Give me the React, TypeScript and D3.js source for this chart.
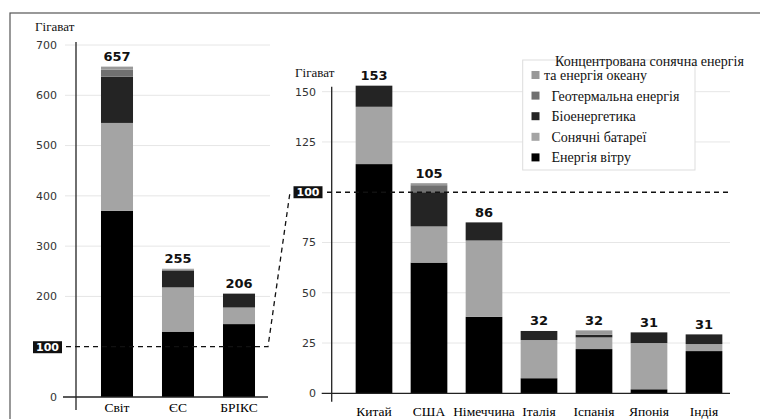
import React from "react";
import * as d3 from "d3";

const leftCategories = ["Світ", "ЄС", "БРІКС"];
const leftWind = [370, 130, 145];
const leftSolar = [175, 88, 33];
const leftBio = [92, 33, 27];
const leftGeo = [14, 2, 1];
const leftCsp = [6, 2, 0];
const leftTotals = [657, 255, 206];
const leftTicks = [0, 100, 200, 300, 400, 500, 600, 700];

const rightCategories = ["Китай", "США", "Німеччина", "Італія", "Іспанія", "Японія", "Індія"];
const rightWind = [114, 65, 38, 7.5, 22, 2, 21];
const rightSolar = [28.5, 18, 38, 19, 5.8, 23, 3.5];
const rightBio = [10.5, 17, 9, 4.5, 1.3, 5.3, 4.8];
const rightGeo = [0, 3.5, 0, 0, 0, 0, 0];
const rightCsp = [0, 1, 0, 0, 2.2, 0, 0];
const rightTotals = [153, 105, 86, 32, 32, 31, 31];
const rightTicks = [0, 25, 50, 75, 100, 125, 150];

const keys = ["wind", "solar", "bio", "geo", "csp"];
const colors: Record<string, string> = {
  wind: "#000000",
  solar: "#a4a4a4",
  bio: "#242424",
  geo: "#707070",
  csp: "#999999",
};
const legendItems = [
  { key: "csp", label: "та  енергія океану" },
  { key: "geo", label: "Геотермальна енергія" },
  { key: "bio", label: "Біоенергетика" },
  { key: "solar", label: "Сонячні батареї" },
  { key: "wind", label: "Енергія вітру" },
];

function buildRows(cats: string[], w: number[], s: number[], b: number[], g: number[], c: number[]) {
  return cats.map((cat, i) => ({ cat, wind: w[i], solar: s[i], bio: b[i], geo: g[i], csp: c[i] }));
}

const sans = { fontFamily: "DejaVu Sans, Verdana, sans-serif" };
const serif = { fontFamily: "Liberation Serif, Times New Roman, serif" };

export default function App() {
  const leftRows = buildRows(leftCategories, leftWind, leftSolar, leftBio, leftGeo, leftCsp);
  const rightRows = buildRows(rightCategories, rightWind, rightSolar, rightBio, rightGeo, rightCsp);
  const stack = d3.stack<any>().keys(keys);
  const leftSeries = stack(leftRows);
  const rightSeries = stack(rightRows);

  const yL = d3.scaleLinear().domain([0, 700]).range([397, 45]);
  const xL = d3.scaleBand().domain(leftCategories).range([86.5, 269.5]).paddingInner(0.475).paddingOuter(0.2375);
  const yR = d3.scaleLinear().domain([0, 150]).range([393.3, 91.7]);
  const xR = d3.scaleBand().domain(rightCategories).range([346.5, 731.5]).paddingInner(0.333).paddingOuter(0.1665);

  const y100L = yL(100);
  const y100R = yR(100);
  const rightSum = (i: number) => d3.sum([rightWind[i], rightSolar[i], rightBio[i], rightGeo[i], rightCsp[i]]);

  return (
    <svg width={760} height={419} style={{ position: "absolute", left: 0, top: 0, background: "#fff" }}>
      <rect x={0} y={0} width={760} height={419} fill="#fff" />
      <rect x={10} y={13} width={760} height={420} fill="none" stroke="#555" strokeWidth={1.2} />

      {/* LEFT CHART */}
      {leftTicks.filter((t) => t !== 0 && t !== 100).map((t) => (
        <line key={"gl" + t} x1={65} x2={270} y1={yL(t)} y2={yL(t)} stroke="#e6e6e6" strokeWidth={1} />
      ))}
      {leftSeries.map((ser) =>
        ser.map((d: any, i: number) => (
          <rect
            key={ser.key + i}
            x={xL(leftCategories[i])}
            width={xL.bandwidth()}
            y={yL(d[1])}
            height={Math.max(0, yL(d[0]) - yL(d[1]))}
            fill={colors[ser.key]}
          />
        ))
      )}
      {leftTicks.filter((t) => t !== 100).map((t) => (
        <text key={"tl" + t} x={57} y={yL(t)} dy="0.35em" textAnchor="end" style={sans} fontSize={11} fill="#333">
          {t}
        </text>
      ))}
      <line x1={76} x2={76} y1={42} y2={410} stroke="#222" strokeWidth={1.3} />
      <line x1={63} x2={268} y1={yL(0)} y2={yL(0)} stroke="#222" strokeWidth={1.3} />
      <text x={35} y={31} style={serif} fontSize={13} fill="#111">Гігават</text>
      {leftCategories.map((c, i) => (
        <g key={"lc" + c}>
          <text x={(xL(c) as number) + xL.bandwidth() / 2} y={yL(leftTotals[i]) - 5.5} textAnchor="middle" style={sans} fontWeight="bold" fontSize={13} fill="#111">
            {leftTotals[i]}
          </text>
          <text x={(xL(c) as number) + xL.bandwidth() / 2} y={412} textAnchor="middle" style={serif} fontSize={13.5} fill="#000">
            {c}
          </text>
        </g>
      ))}
      <rect x={33} y={y100L - 5.5} width={29} height={12} fill="#111" />
      <text x={47.5} y={y100L} dy="0.36em" textAnchor="middle" style={sans} fontSize={11} fontWeight="bold" fill="#fff">100</text>

      {/* connector */}
      <polyline
        points={`66,${y100L} 268,${y100L} 290,${y100R}`}
        fill="none"
        stroke="#111"
        strokeWidth={1.3}
        strokeDasharray="5,4"
      />

      {/* RIGHT CHART */}
      {rightTicks.filter((t) => t !== 0 && t !== 100).map((t) => (
        <line key={"gr" + t} x1={322} x2={730} y1={yR(t)} y2={yR(t)} stroke="#e6e6e6" strokeWidth={1} />
      ))}
      {rightSeries.map((ser) =>
        ser.map((d: any, i: number) => (
          <rect
            key={ser.key + i}
            x={xR(rightCategories[i])}
            width={xR.bandwidth()}
            y={yR(d[1])}
            height={Math.max(0, yR(d[0]) - yR(d[1]))}
            fill={colors[ser.key]}
          />
        ))
      )}
      {rightTicks.filter((t) => t !== 100).map((t) => (
        <text key={"tr" + t} x={316} y={yR(t)} dy="0.35em" textAnchor="end" style={sans} fontSize={11} fill="#333">
          {t}
        </text>
      ))}
      <line x1={331.7} x2={331.7} y1={86.7} y2={401.7} stroke="#222" strokeWidth={1.3} />
      <line x1={321.7} x2={730} y1={yR(0)} y2={yR(0)} stroke="#222" strokeWidth={1.3} />
      <line x1={327} x2={730} y1={y100R} y2={y100R} stroke="#111" strokeWidth={1.3} strokeDasharray="5,4" />
      <rect x={293.5} y={y100R - 6} width={29} height={12} fill="#111" />
      <text x={308} y={y100R} dy="0.36em" textAnchor="middle" style={sans} fontSize={11} fontWeight="bold" fill="#fff">100</text>
      <text x={295} y={77} style={serif} fontSize={13} fill="#111">Гігават</text>
      {rightCategories.map((c, i) => (
        <g key={"rc" + c}>
          <text x={(xR(c) as number) + xR.bandwidth() / 2} y={yR(rightSum(i)) - 5.5} textAnchor="middle" style={sans} fontWeight="bold" fontSize={13} fill="#111">
            {rightTotals[i]}
          </text>
          <text x={(xR(c) as number) + xR.bandwidth() / 2} y={416} textAnchor="middle" style={serif} fontSize={13.5} fill="#000">
            {c}
          </text>
        </g>
      ))}

      {/* LEGEND */}
      <rect x={522.7} y={60} width={172.3} height={110} fill="#fff" stroke="#ddd" strokeWidth={1} />
      <text x={555} y={60.7} dy="0.35em" style={serif} fontSize={14} fill="#111">Концентрована сонячна енергія</text>
      {legendItems.map((it, i) => (
        <g key={"lg" + it.key}>
          <rect x={531.5} y={75 + i * 20.6 - 4} width={8} height={8} fill={colors[it.key]} />
          <text x={i === 0 ? 544 : 551.5} y={75 + i * 20.6} dy="0.35em" style={serif} fontSize={14} fill="#111">
            {it.label}
          </text>
        </g>
      ))}
    </svg>
  );
}
